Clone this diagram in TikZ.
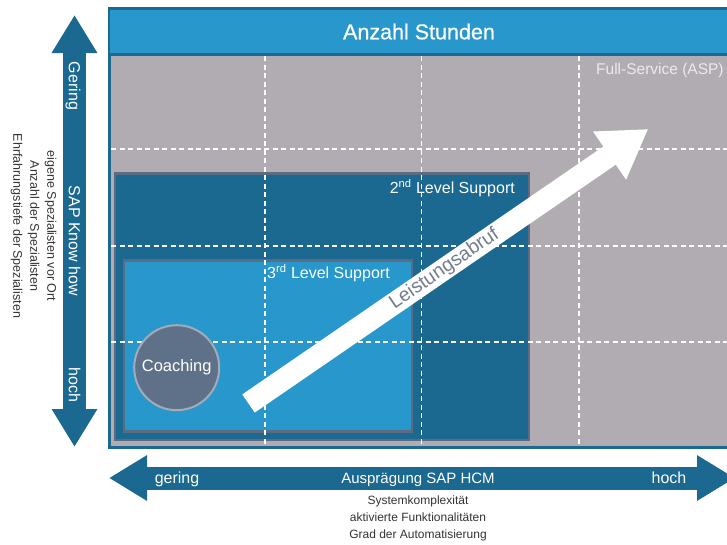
\documentclass[tikz,border=0pt]{standalone}
\usepackage{fontspec}
\setmainfont{Liberation Sans}
\newfontfamily\headfont[FakeBold=0.6]{Liberation Sans}
\usetikzlibrary{arrows.meta}
\definecolor{dblue}{HTML}{1B6890}
\definecolor{lblue}{HTML}{2897CB}
\definecolor{greyc}{HTML}{B1ACB1}
\definecolor{boxb}{HTML}{5B6B82}
\definecolor{circf}{HTML}{5F7189}
\definecolor{circb}{HTML}{A3ABBA}
\definecolor{arrtxt}{HTML}{737D8C}
\definecolor{sidetxt}{HTML}{333333}
\tikzset{
  gridline/.style={white, line width=1.2pt, dash pattern=on 5pt off 3.5pt},
  lvlbox/.style={draw=boxb, line width=2.5pt},
  axisarrow/.style={dblue, line width=23pt,
     {Triangle[length=38pt,width=43pt]}-{Triangle[length=38pt,width=43pt]}},
  axislabel/.style={text=white, inner sep=0pt, font=\fontsize{16}{19}\selectfont},
  wtxt/.style={text=white, inner sep=0pt, font=\fontsize{16}{19}\selectfont},
  subtxt/.style={text=sidetxt, align=center, inner sep=0pt, font=\fontsize{12.5}{17}\selectfont}
}
\begin{document}
\begin{tikzpicture}[x=1pt,y=-1pt]
\useasboundingbox (0,0) rectangle (727,544);
\begin{scope}
\clip (0,0) rectangle (727,544);
% frame
\fill[dblue] (108,7) rectangle (745,449);
\fill[lblue] (110,10) rectangle (745,53);
\fill[greyc] (111,56) rectangle (745,446);
\node[text=white, inner sep=0pt, anchor=base, font=\headfont\fontsize{21.5}{24}\selectfont] (hdr) at (419,39.3) {Anzahl Stunden};
% level boxes
\draw[lvlbox, fill=dblue] (115.2,173.3) rectangle (528.8,439.8);
\draw[lvlbox, fill=lblue] (124,260.6) rectangle (412,431.4);
% grid
\foreach \gx in {265,421.7,579} \draw[gridline] (\gx,56) -- (\gx,446);
\foreach \gy in {149,246,342} \draw[gridline] (111,\gy) -- (745,\gy);
% labels
\node[wtxt, anchor=base west, font=\fontsize{15.5}{18}\selectfont, text=white!92!black] (full) at (596,74) {Full-Service (ASP)};
\node[wtxt, anchor=base east] (second) at (515,193.3) {2\textsuperscript{nd} Level Support};
\node[wtxt, anchor=base west] (third) at (267,278.3) {3\textsuperscript{rd} Level Support};
% coaching
\node[circle, draw=circb, line width=2pt, fill=circf, minimum size=85pt, inner sep=0pt, text=white, font=\fontsize{16.5}{19}\selectfont] (coach) at (176.7,367.7) {Coaching};
% Leistungsabruf arrow
\coordinate (aS) at (248.5,403.5);
\coordinate (aT) at (648.3,129);
\draw[white, line width=22pt, -{Triangle[length=47pt,width=55pt]}] (aS) -- (aT);
\path (aS) -- (aT) node[pos=0.49, sloped, text=arrtxt, inner sep=0pt, font=\fontsize{19.5}{24}\selectfont] (leist) {Leistungsabruf};
% left axis
\coordinate (lT) at (74.5,15);
\coordinate (lB) at (74.5,447);
\draw[axisarrow] (lT) -- (lB);
\node[axislabel, rotate=-90, anchor=base] (lg) at (68.8,86) {Gering};
\node[axislabel, rotate=-90, anchor=base] (lk) at (68.8,241) {SAP Know how};
\node[axislabel, rotate=-90, anchor=base] (lh) at (68.8,385) {hoch};
\node[subtxt, rotate=-90] (side) at (33.5,226) {eigene Spezialisten vor Ort\\Anzahl der Spezialisten\\Ehrfahrungstiefe der Spezialisten};
% bottom axis
\coordinate (bL) at (109,478);
\coordinate (bR) at (735,478);
\draw[axisarrow] (bL) -- (bR);
\node[axislabel, anchor=base] (bg) at (177,483.7) {gering};
\node[axislabel, anchor=base, font=\fontsize{15}{18}\selectfont] (ba) at (418,483.7) {Ausprägung SAP HCM};
\node[axislabel, anchor=base] (bh) at (669,483.7) {hoch};
\node[subtxt, anchor=north, font=\fontsize{12}{17}\selectfont] (bottom) at (418,496) {Systemkomplexität\\aktivierte Funktionalitäten\\Grad der Automatisierung};
\end{scope}
\end{tikzpicture}
\end{document}
